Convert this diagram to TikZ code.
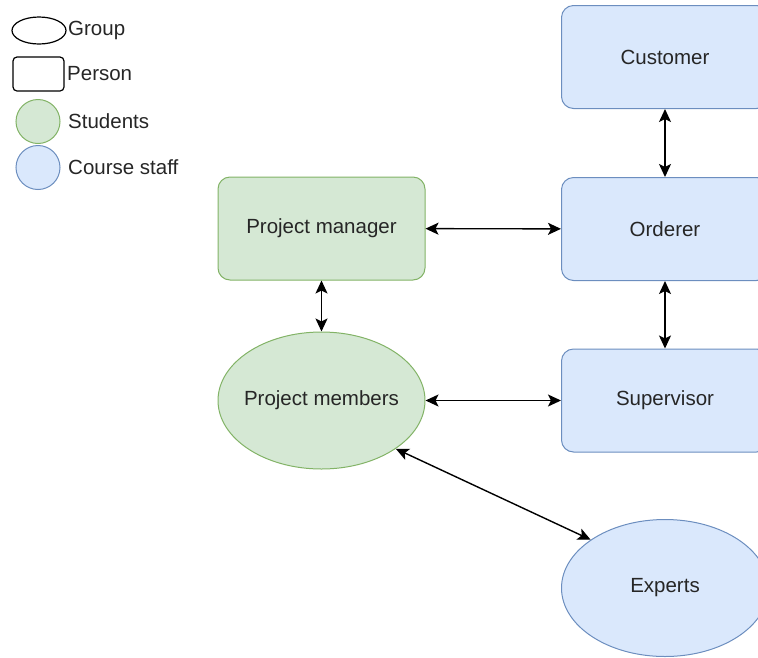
\documentclass[tikz,border=0pt]{standalone}
\usepackage{fontspec}
\setmainfont{Liberation Sans}
\usetikzlibrary{arrows.meta,shapes.geometric}

\definecolor{studfill}{HTML}{D5E8D4}
\definecolor{studline}{HTML}{82B366}
\definecolor{stafffill}{HTML}{DAE8FC}
\definecolor{staffline}{HTML}{6C8EBF}

\begin{document}
\begin{tikzpicture}[x=1pt,y=-1pt,
        font=\fontsize{20.5}{24}\selectfont, text=black!85,
        person/.style={draw, rounded corners=12pt, minimum width=207pt, minimum height=103pt, line width=1pt},
        gruppe/.style={draw, ellipse, inner sep=0pt, inner xsep=-10pt, minimum width=207pt, minimum height=137pt, line width=1pt},
        studenten/.style={fill=studfill, draw=studline},
        personal/.style={fill=stafffill, draw=staffline},
        legtext/.style={anchor=west, inner sep=0pt},
        pfeil/.style={{Stealth[length=13pt,width=12pt,inset=3pt]}-{Stealth[length=13pt,width=12pt,inset=3pt]}, line width=1.4pt}
    ]
            % Rahmen
            \useasboundingbox (0,0) rectangle (758,657);

            % Legende
            \node[draw, ellipse, line width=1.2pt, minimum width=54pt, minimum height=27pt, inner sep=0pt] (lgroup) at (39,30.5) {};
            \node[draw, rounded corners=4pt, line width=1.2pt, minimum width=51pt, minimum height=34pt, inner sep=0pt] (lperson) at (38.5,74) {};
            \node[studenten, circle, line width=1pt, minimum size=44pt, inner sep=0pt] (lstud) at (38,121.5) {};
            \node[personal, circle, line width=1pt, minimum size=44pt, inner sep=0pt] (lstaff) at (38,167.5) {};
            \node[legtext] (tgroup) at (68,30.5) {Group};
            \node[legtext] (tperson) at (67,73.5) {Person};
            \node[legtext] (tstud) at (68,121.5) {Students};
            \node[legtext] (tstaff) at (68,167.5) {Course staff};

            % Studenten
            \node[person, studenten] (manager) at (321.5,228.5) {Project manager};
            \node[gruppe, studenten] (members) at (321.5,400.5) {Project members};

            % Kurspersonal
            \node[person, personal] (customer) at (665,57) {Customer};
            \node[person, personal] (orderer) at (665,229) {Orderer};
            \node[person, personal] (supervisor) at (665,400.5) {Supervisor};
            \node[gruppe, personal] (experts) at (665,588) {Experts};

            % Pfeile
            \foreach \a/\b in {customer/orderer, manager/orderer, orderer/supervisor, manager/members, members/supervisor} {
                \draw[pfeil] (\a) -- (\b);
            }
            \draw[pfeil] (members.-33) -- (experts.147);
        \end{tikzpicture}
\end{document}
